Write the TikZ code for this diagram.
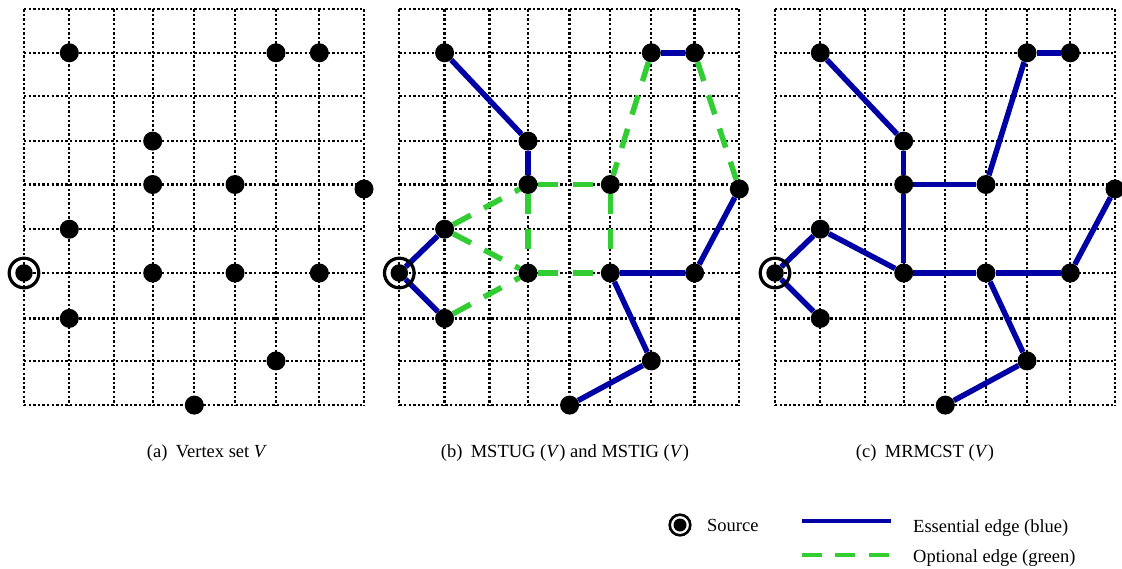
\documentclass[tikz,border=0pt]{standalone}
\usepackage{fontspec}
\setmainfont{Liberation Serif}
\pgfdeclarelayer{gridl}
\pgfdeclarelayer{edgel}
\pgfsetlayers{gridl,edgel,main}
\definecolor{essblue}{RGB}{0,0,165}
\definecolor{optgreen}{RGB}{50,205,50}
\tikzset{
  gridline/.style={line width=2.3pt, dash pattern=on 2.4pt off 2.2pt},
  vtx/.style={circle, fill=black, inner sep=0pt, minimum size=19pt},
  srcv/.style={circle, fill=black, inner sep=0pt, minimum size=17.5pt},
  ring/.style={line width=3.2pt},
  ess/.style={draw=essblue, line width=5.5pt},
  opt/.style={draw=optgreen, line width=5.5pt, dash pattern=on 20pt off 15pt},
  captxt/.style={font=\fontsize{18.5}{21}\selectfont, inner sep=0pt},
}
\def\colx{{24,69.3,114.3,152.7,194.3,235,276,319.3,364}}
\def\rowy{{9.2,52.8,95.9,141.1,184.5,229.2,273,318.4,360.9,405.1}}
\begin{document}
\begin{tikzpicture}[x=1pt,y=-1pt]
\useasboundingbox (0,0) rectangle (1122,569);
\foreach \p/\ox in {a/0,b/375.3,c/751}{
  \begin{pgfonlayer}{gridl}
  \foreach \i in {0,...,8}{
    \pgfmathsetmacro\xx{\colx[\i]+\ox}
    \draw[gridline] (\xx,9.2) -- (\xx,405.1);
  }
  \foreach \j in {0,...,9}{
    \pgfmathsetmacro\yy{\rowy[\j]}
    \pgfmathsetmacro\xa{24+\ox}
    \pgfmathsetmacro\xb{364+\ox}
    \draw[gridline] (\xa,\yy) -- (\xb,\yy);
  }
  \end{pgfonlayer}
  \foreach \n/\c/\yy in {11/1/52.8, 61/6/52.8, 71/7/52.8, 33/3/141.1, 34/3/184.5, 54/5/184.5, 84/8/189, 15/1/229.2, 36/3/273, 56/5/273, 76/7/273, 17/1/318.4, 68/6/360.9, 49/4/405.1}{
    \pgfmathsetmacro\xx{\colx[\c]+\ox}
    \node[vtx] (\p\n) at (\xx,\yy) {};
  }
  \pgfmathsetmacro\xs{24+\ox}
  \node[srcv] (\p06) at (\xs,273) {};
  \draw[ring] (\p06) circle[radius=14.8pt];
}
% panel (b) edges
\begin{pgfonlayer}{edgel}
\draw[opt] (b34) -- (b54);
\draw[opt] (b34) -- (b36);
\draw[opt] (b54) -- (b56);
\draw[opt] (b36) -- (b56);
\draw[opt] (b15) -- (b34);
\draw[opt] (b15) -- (b36);
\draw[opt] (b17) -- (b36);
\draw[opt] (b61) -- (b54);
\draw[opt] (b71) -- (b84);
\draw[ess] (b11) -- (b33);
\draw[ess] (b33) -- (b34);
\draw[ess] (b61) -- (b71);
\draw[ess] (b06) -- (b15);
\draw[ess] (b06) -- (b17);
\draw[ess] (b56) -- (b76);
\draw[ess] (b76) -- (b84);
\draw[ess] (b56) -- (b68);
\draw[ess] (b68) -- (b49);
% panel (c) edges
\draw[ess] (c11) -- (c33);
\draw[ess] (c33) -- (c34);
\draw[ess] (c34) -- (c54);
\draw[ess] (c54) -- (c61);
\draw[ess] (c61) -- (c71);
\draw[ess] (c34) -- (c36);
\draw[ess] (c06) -- (c15);
\draw[ess] (c06) -- (c17);
\draw[ess] (c15) -- (c36);
\draw[ess] (c36) -- (c56);
\draw[ess] (c56) -- (c76);
\draw[ess] (c76) -- (c84);
\draw[ess] (c56) -- (c68);
\draw[ess] (c68) -- (c49);
\end{pgfonlayer}
% captions
\node[captxt] (capa) at (207,453) {(a)\hspace{0.45em}Vertex set \textit{V}};
\node[captxt] (capb) at (565,453) {(b)\hspace{0.45em}MSTUG (\textit{V}) and MSTIG (\textit{V})};
\node[captxt] (capc) at (925,453) {(c)\hspace{0.45em}MRMCST (\textit{V})};
% legend
\node[circle, fill=black, inner sep=0pt, minimum size=13pt] (lsrc) at (680,525) {};
\draw[line width=2.6pt] (lsrc) circle[radius=10.3pt];
\node[captxt, anchor=west] (lsrct) at (707,525) {Source};
\coordinate (lb1) at (802,521);
\coordinate (lb2) at (891,521);
\coordinate (lg1) at (802,555);
\coordinate (lg2) at (889,555);
\draw[draw=essblue, line width=4pt] (lb1) -- (lb2);
\draw[draw=optgreen, line width=4pt, dash pattern=on 20pt off 13.3pt] (lg1) -- (lg2);
\node[captxt, anchor=west] (lbt) at (913,528) {Essential edge (blue)};
\node[captxt, anchor=west] (lgt) at (913,558) {Optional edge (green)};
\end{tikzpicture}
\end{document}
